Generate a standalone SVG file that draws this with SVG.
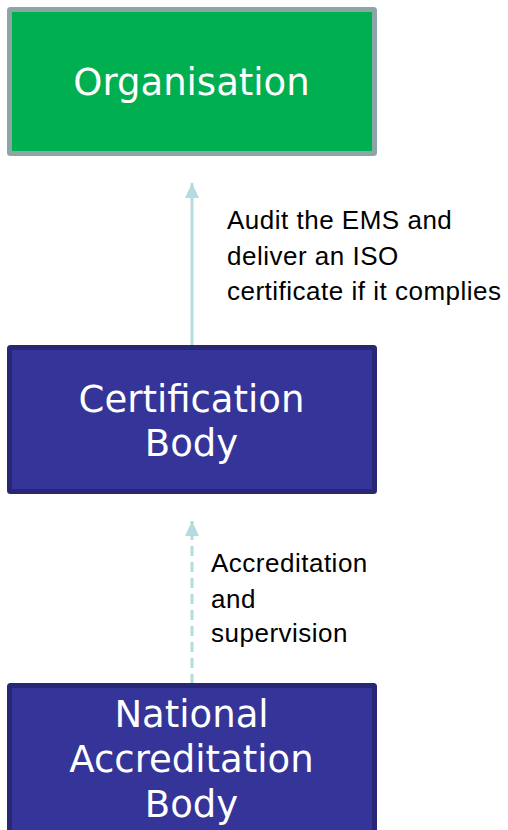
<svg xmlns="http://www.w3.org/2000/svg" width="508" height="830" viewBox="0 0 508 830">
<style>
.box-text{font-family:"DejaVu Sans",Verdana,sans-serif;font-size:37px;fill:#ffffff;text-anchor:middle}
.lbl{font-family:"Liberation Sans",Arial,sans-serif;font-size:26px;letter-spacing:0.5px;fill:#000000}
.blue{fill:#353599;stroke:#272775;stroke-width:5}
.conn{stroke:#B4DCDE;stroke-width:3;fill:none}
</style>
<defs>
<marker id="arr" markerWidth="14" markerHeight="15" refX="7" refY="0" orient="0" markerUnits="userSpaceOnUse" overflow="visible">
<path d="M0,15 L7,0 L14,15 Z" fill="#B4DCDE"/>
</marker>
</defs>
<rect width="508" height="830" fill="#ffffff"/>
<g id="connectors">
<line class="conn" x1="192" y1="347" x2="192" y2="183" marker-end="url(#arr)"/>
<line class="conn" x1="192" y1="684" x2="192" y2="521" stroke-dasharray="10,6" marker-end="url(#arr)"/>
<text class="lbl" x="227" y="229">Audit the EMS and</text>
<text class="lbl" x="227" y="265">deliver an ISO</text>
<text class="lbl" x="227" y="300">certificate if it complies</text>
<text class="lbl" x="211" y="572">Accreditation</text>
<text class="lbl" x="211" y="608">and</text>
<text class="lbl" x="211" y="642">supervision</text>
</g>
<g id="organisation">
<rect x="9.5" y="9.5" width="365" height="144" fill="#00AF50" stroke="#8CA6A8" stroke-width="5" rx="1"/>
<text class="box-text" x="191.5" y="95">Organisation</text>
</g>
<g id="certification-body">
<rect class="blue" x="9.5" y="347.5" width="365" height="144" rx="1"/>
<text class="box-text" x="191.5" y="412">Certification</text>
<text class="box-text" x="191.5" y="456">Body</text>
</g>
<g id="national-accreditation-body">
<rect class="blue" x="9.5" y="685.5" width="365" height="160" rx="1"/>
<text class="box-text" x="191.5" y="727">National</text>
<text class="box-text" x="191.5" y="772">Accreditation</text>
<text class="box-text" x="191.5" y="817">Body</text>
</g>
</svg>
